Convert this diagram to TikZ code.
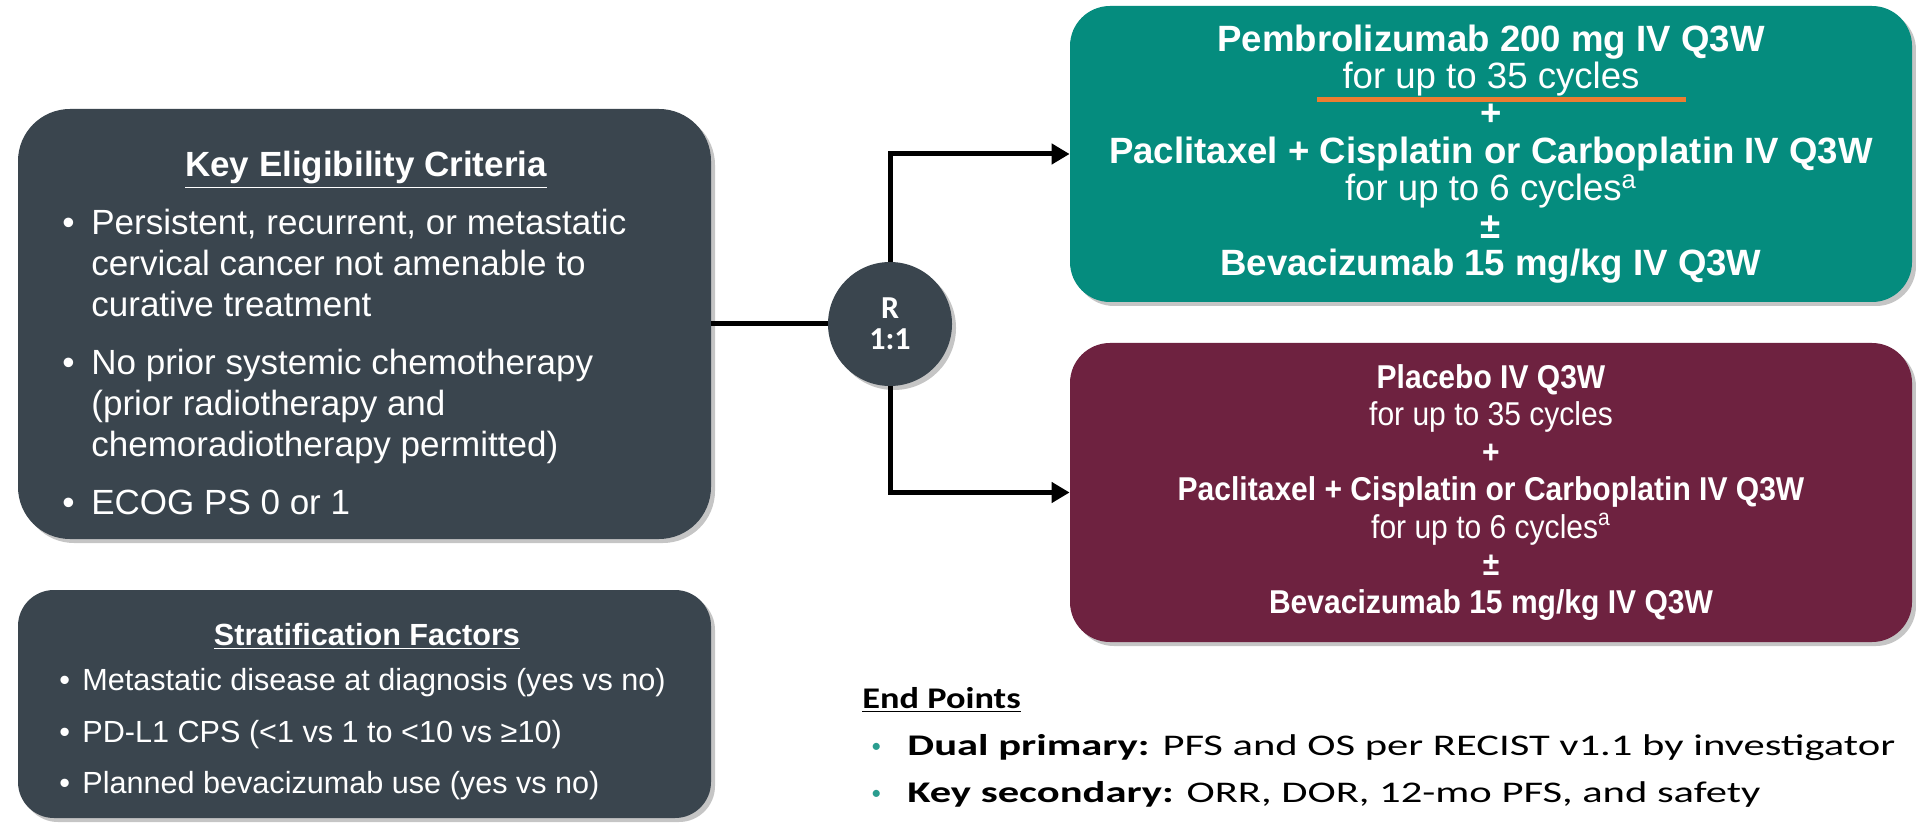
\documentclass[tikz,border=0pt]{standalone}
\usepackage{fontspec}
\setmainfont{Liberation Sans}
\newfontfamily\narrowsans[FakeStretch=0.91]{Liberation Sans}
\newfontfamily\calibri{Carlito}
\newfontfamily\calibrihd[FakeStretch=1.21]{Carlito}
\newfontfamily\calibriw[FakeStretch=1.42]{Carlito}
\usepackage{tikz}
\definecolor{Slate}{HTML}{3A454E}
\definecolor{Teal}{HTML}{058C7E}
\definecolor{Wine}{HTML}{6E2240}
\definecolor{Mark}{HTML}{ED7D31}
\definecolor{Dot}{HTML}{2A9D8F}
\usetikzlibrary{positioning,arrows.meta,shadows}

% bullet row: mark, then lines of the item (continue lines with \\ &)
\newcommand{\bitem}[3][\textbullet]{%
  \begin{tabular}[t]{@{}p{#2}@{}l@{}}#1 & #3\end{tabular}}
\newcommand{\tdot}{\textcolor{Dot}{\raisebox{1.4pt}{\calibri\fontsize{10}{10}\selectfont\textbullet}}}

\begin{document}
\begin{tikzpicture}[
  x=0.5pt, y=-0.5pt, >={Triangle[length=9pt,width=10pt]},
  panel/.style={inner sep=0pt, text=white, align=center,
                drop shadow={shadow xshift=2pt, shadow yshift=-2pt, opacity=.45}},
  hd/.style={inner sep=0pt, anchor=base, text=white},
  it/.style={inner sep=0pt, anchor=base west, text=white},
  ln/.style={line width=2.5pt, black},
  ar/.style={ln, ->}]
\path[use as bounding box, fill=white] (0,0) rectangle (1916,823);

% ================= left: eligibility and stratification =================
\node[panel, fill=Slate, rounded corners=26pt, minimum width=346.5pt,
      minimum height=215pt] (elig) at (364.5,324) {};
\node[hd, font=\bfseries\fontsize{17.5}{21}\selectfont] (eligT) at (366,177)
  {\underline{Key Eligibility Criteria}};
\node[it, font=\fontsize{17.5}{20.5}\selectfont] (e1) at (62,235)
  {\bitem{14.5pt}{Persistent, recurrent, or metastatic\\ & cervical cancer not amenable to\\ & curative treatment}};
\node[it, font=\fontsize{17.5}{20.5}\selectfont] (e2) at (62,375)
  {\bitem{14.5pt}{No prior systemic chemotherapy\\ & (prior radiotherapy and\\ & chemoradiotherapy permitted)}};
\node[it, font=\fontsize{17.5}{20.5}\selectfont] (e3) at (62,514)
  {\bitem{14.5pt}{ECOG PS 0 or 1}};

\node[panel, fill=Slate, rounded corners=18pt, minimum width=346.5pt,
      minimum height=114pt] (strat) at (364.5,704) {};
\node[hd, font=\bfseries\fontsize{15.3}{18}\selectfont] (stratT) at (367,645)
  {\underline{Stratification Factors}};
\node[it, font=\fontsize{15.3}{18}\selectfont] (s1) at (59,690)
  {\bitem{11.5pt}{Metastatic disease at diagnosis (yes vs no)}};
\node[it, font=\fontsize{15.3}{18}\selectfont] (s2) at (59,742)
  {\bitem{11.5pt}{PD-L1 CPS (<1 vs 1 to <10 vs ≥10)}};
\node[it, font=\fontsize{15.3}{18}\selectfont] (s3) at (59,793)
  {\bitem{11.5pt}{Planned bevacizumab use (yes vs no)}};

% ================= randomisation =================
\node[panel, circle, fill=Slate, minimum size=62pt,
      font=\calibri\bfseries\fontsize{16}{15.5}\selectfont] (rnd) at (890,324) {R\\1:1};
\draw[ln] (elig.east) -- (rnd.west);

% ================= right: the two arms =================
\node[panel, fill=Teal, rounded corners=20pt, minimum width=421pt, minimum height=148pt,
      font=\fontsize{18.3}{18.7}\selectfont] (arm1) at (1491,154)
  {\textbf{Pembrolizumab 200 mg IV Q3W}\\ for up to 35 cycles\\ \textbf{+}\\
   \textbf{Paclitaxel + Cisplatin or Carboplatin IV Q3W}\\
   for up to 6 cycles\textsuperscript{a}\\ \textbf{±}\\ \textbf{Bevacizumab 15 mg/kg IV Q3W}};
\draw[Mark, line width=2.5pt] (1317,100) -- (1686,100);

\node[panel, fill=Wine, rounded corners=20pt, minimum width=421pt, minimum height=149.5pt,
      font=\narrowsans\fontsize{16.5}{18.75}\selectfont] (arm2) at (1491,492.5)
  {\textbf{Placebo IV Q3W}\\ for up to 35 cycles\\ \textbf{+}\\
   \textbf{Paclitaxel + Cisplatin or Carboplatin IV Q3W}\\
   for up to 6 cycles\textsuperscript{a}\\ \textbf{±}\\ \textbf{Bevacizumab 15 mg/kg IV Q3W}};

\draw[ar] (rnd.north) |- (arm1.west);
\draw[ar] (rnd.south) |- (arm2.west);

% ================= end points =================
\node[it, text=black, font=\calibrihd\bfseries\fontsize{15}{18}\selectfont] (ept) at (862,708)
  {\underline{End Points}};
\node[it, text=black, font=\calibriw\fontsize{15}{18}\selectfont] (ep1) at (871,755)
  {\bitem[\tdot]{18pt}{\textbf{Dual primary:} PFS and OS per RECIST v1.1 by investigator}};
\node[it, text=black, font=\calibriw\fontsize{15}{18}\selectfont] (ep2) at (871,802)
  {\bitem[\tdot]{18pt}{\textbf{Key secondary:} ORR, DOR, 12-mo PFS, and safety}};
\end{tikzpicture}
\end{document}
